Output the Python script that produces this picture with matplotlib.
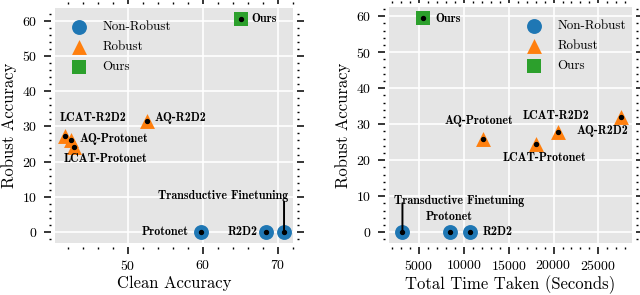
import numpy as np
import matplotlib
matplotlib.use('Agg')
from matplotlib import pyplot as plt
from matplotlib.ticker import MultipleLocator

plt.rcParams['font.family'] = 'serif'
plt.rcParams['font.serif'] = ['cmr10', 'DejaVu Serif']
plt.rcParams['axes.formatter.use_mathtext'] = True
plt.rcParams['mathtext.fontset'] = 'cm'

# data
names = ['Protonet', 'R2D2', 'Transductive Finetuning',
         'AQ-Protonet', 'LCAT-Protonet', 'AQ-R2D2', 'LCAT-R2D2', 'Ours']
group = ['Non-Robust', 'Non-Robust', 'Non-Robust',
         'Robust', 'Robust', 'Robust', 'Robust', 'Ours']
clean_acc = [59.7, 68.4, 70.8, 42.4, 42.8, 52.6, 41.6, 65.1]
robust_acc_clean = [0.0, 0.0, 0.0, 26.1, 24.2, 31.6, 27.4, 60.5]
time_taken = [8450, 10650, 3150, 12100, 18000, 27550, 20450, 5450]
robust_acc_time = [0.0, 0.0, 0.0, 25.9, 24.4, 31.9, 27.8, 59.4]

groups = ['Non-Robust', 'Robust', 'Ours']
colors = {'Non-Robust': '#1f77b4', 'Robust': '#ff7f0e', 'Ours': '#2ca02c'}
markers = {'Non-Robust': 'o', 'Robust': '^', 'Ours': 's'}

# label offsets (points)
off_left = {'Protonet': (-9, 0, 'right'), 'R2D2': (-6, 0, 'right'),
            'Transductive Finetuning': (-43.6, 26.1, 'center'),
            'AQ-Protonet': (6, 0.5, 'left'), 'LCAT-Protonet': (23, -9, 'center'),
            'AQ-R2D2': (5, 1.7, 'left'), 'LCAT-R2D2': (20, 12.7, 'center'),
            'Ours': (7, 0, 'left')}
off_right = {'Protonet': (-0.7, 11.2, 'center'), 'R2D2': (9, 0, 'left'),
             'Transductive Finetuning': (40.9, 22.8, 'center'),
             'AQ-Protonet': (-2.7, 12.7, 'center'), 'LCAT-Protonet': (6.3, -10, 'center'),
             'AQ-R2D2': (-13.5, -9.6, 'center'), 'LCAT-R2D2': (-1.1, 12, 'center'),
             'Ours': (8.6, -0.7, 'left')}

fig = plt.figure(figsize=(6.4, 2.95), dpi=100)
ax1 = fig.add_axes([0.0859, 0.1773, 0.372, 0.7946])
ax2 = fig.add_axes([0.6078, 0.1773, 0.3797, 0.798])


def draw(ax, xs, ys, offs, stem, legpos):
    ax.set_facecolor('#e5e5e5')
    ax.grid(True, color='white', lw=1.2)
    ax.set_axisbelow(True)
    for s in ax.spines.values():
        s.set_position(('outward', 3))
        s.set_visible(False)
    for g in groups:
        idx = [i for i in range(len(names)) if group[i] == g]
        ax.scatter([xs[i] for i in idx], [ys[i] for i in idx], s=115,
                   marker=markers[g], color=colors[g], label=g, zorder=3,
                   linewidths=0)
    ax.scatter(xs, ys, s=8, color='black', zorder=4)
    for i, n in enumerate(names):
        dx, dy, ha = offs[n]
        if n == 'Transductive Finetuning':
            ax.annotate('', (xs[i], ys[i]), xytext=(0, stem), textcoords='offset points',
                        arrowprops=dict(arrowstyle='-', color='black', lw=1.4,
                                        shrinkA=0, shrinkB=0), zorder=5)
        ax.annotate(n, (xs[i], ys[i]), xytext=(dx, dy), textcoords='offset points',
                    ha=ha, va='center', fontsize=8.6, family='cmb10', zorder=5)
    ax.tick_params(which='both', top=True, right=True, direction='out',
                   labelsize=10, color='black')
    ax.tick_params(which='major', length=5, width=1.1)
    ax.tick_params(which='minor', length=1.5, width=1)
    ax.tick_params(axis='y', which='major', pad=5)
    ax.yaxis.set_major_locator(MultipleLocator(10))
    ax.yaxis.set_minor_locator(MultipleLocator(2))
    ax.set_ylabel('Robust Accuracy', fontsize=12, labelpad=3)
    ax.legend(loc='upper left', bbox_to_anchor=legpos, frameon=False, fontsize=9.4,
              markerscale=1.0, handlelength=1.3, handletextpad=1.15,
              labelspacing=0.6, borderaxespad=0.5, borderpad=0.4)


draw(ax1, clean_acc, robust_acc_clean, off_left, 22, (0.0156, 0.995))
ax1.set_xlim(40.3, 72)
ax1.set_ylim(-3.0, 63.5)
ax1.xaxis.set_major_locator(MultipleLocator(10))
ax1.xaxis.set_minor_locator(MultipleLocator(2))
ax1.set_xlabel('Clean Accuracy', fontsize=12, labelpad=2)

draw(ax2, time_taken, robust_acc_time, off_right, 20.9, (0.513, 0.995))
ax2.set_xlim(1650, 28750)
ax2.set_ylim(-2.9, 62.5)
ax2.xaxis.set_major_locator(MultipleLocator(5000))
ax2.xaxis.set_minor_locator(MultipleLocator(1000))
ax2.set_xlabel('Total Time Taken (Seconds)', fontsize=12, labelpad=2)

fig.savefig('out.png', dpi=100)
